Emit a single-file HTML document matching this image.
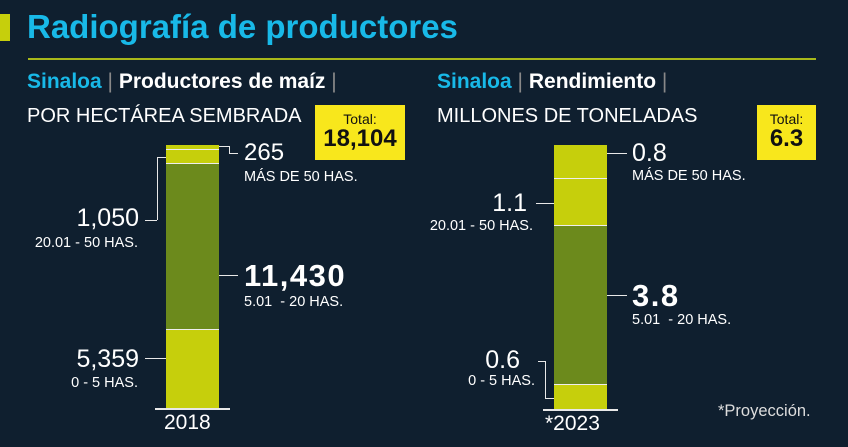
<!DOCTYPE html>
<html><head><meta charset="utf-8"><style>
body{margin:0;width:848px;height:447px;background:#0f1f2f;overflow:hidden;font-family:"Liberation Sans",sans-serif;color:#fff;position:relative}
.a{position:absolute;white-space:nowrap}
.l{position:absolute;background:#e8e8e8}
.s{font-size:14.5px}
.n{font-size:24px}
</style></head><body>
<div class="a" style="left:0;top:14px;width:10px;height:27px;background:#c6cf0c"></div>
<div class="a" style="left:27px;top:8px;font-size:33px;font-weight:bold;color:#18b9e8">Radiografía de productores</div>
<div class="a" style="left:28px;top:58px;width:788px;height:2px;background:#a8b81a"></div>

<div class="a" style="left:27px;top:70px;font-size:21px;font-weight:bold"><span style="color:#18b9e8">Sinaloa</span> <span style="font-weight:normal;color:#888">|</span> Productores de maíz <span style="font-weight:normal;color:#888">|</span></div>
<div class="a" style="left:27px;top:105px;font-size:20px">POR HECTÁREA SEMBRADA</div>
<div class="a" style="left:315px;top:105px;width:90px;height:55px;background:#f8e71c;color:#111;text-align:center"><div style="font-size:14px;margin-top:6px">Total:</div><div style="font-size:24px;font-weight:bold;line-height:24px">18,104</div></div>

<div class="a" style="left:437px;top:70px;font-size:21px;font-weight:bold"><span style="color:#18b9e8">Sinaloa</span> <span style="font-weight:normal;color:#888">|</span> Rendimiento <span style="font-weight:normal;color:#888">|</span></div>
<div class="a" style="left:437px;top:105px;font-size:20px">MILLONES DE TONELADAS</div>
<div class="a" style="left:757px;top:105px;width:59px;height:55px;background:#f8e71c;color:#111;text-align:center"><div style="font-size:14px;margin-top:6px">Total:</div><div style="font-size:24px;font-weight:bold;line-height:24px">6.3</div></div>

<!-- left bar -->
<div class="a" style="left:166px;top:145px;width:53px;height:4px;background:#c6cf0c;border-bottom:1px solid #eee"></div>
<div class="a" style="left:166px;top:150px;width:53px;height:13px;background:#c6cf0c;border-bottom:1px solid #eee"></div>
<div class="a" style="left:166px;top:164px;width:53px;height:165px;background:#6c8a1c;border-bottom:1px solid #eee"></div>
<div class="a" style="left:166px;top:330px;width:53px;height:78px;background:#c6cf0c"></div>
<div class="l" style="left:155px;top:408px;width:75px;height:2px"></div>
<div class="a" style="left:164px;top:411px;font-size:21px">2018</div>
<div class="l" style="left:219px;top:146px;width:10px;height:1px"></div><div class="l" style="left:229px;top:146px;width:1px;height:7px"></div><div class="l" style="left:229px;top:153px;width:9px;height:1px"></div>
<div class="a n" style="left:244px;top:139px">265</div>
<div class="a s" style="left:244px;top:169px">MÁS DE 50 HAS.</div>
<div class="l" style="left:157px;top:157px;width:9px;height:1px"></div><div class="l" style="left:157px;top:157px;width:1px;height:63px"></div><div class="l" style="left:145px;top:220px;width:12px;height:1px"></div>
<div class="a n" style="right:709px;top:204px;font-size:25px">1,050</div>
<div class="a s" style="right:710px;top:235px">20.01 - 50 HAS.</div>
<div class="l" style="left:219px;top:275px;width:19px;height:1px"></div>
<div class="a" style="left:244px;top:258px;font-size:31px;font-weight:bold;letter-spacing:1.5px">11,430</div>
<div class="a s" style="left:244px;top:294px">5.01 &nbsp;- 20 HAS.</div>
<div class="l" style="left:145px;top:358px;width:21px;height:1px"></div>
<div class="a n" style="right:709px;top:345px;font-size:25px">5,359</div>
<div class="a s" style="right:710px;top:375px">0 - 5 HAS.</div>

<!-- right bar -->
<div class="a" style="left:554px;top:145px;width:53px;height:33px;background:#c6cf0c;border-bottom:1px solid #eee"></div>
<div class="a" style="left:554px;top:179px;width:53px;height:46px;background:#c6cf0c;border-bottom:1px solid #eee"></div>
<div class="a" style="left:554px;top:226px;width:53px;height:158px;background:#6c8a1c;border-bottom:1px solid #eee"></div>
<div class="a" style="left:554px;top:385px;width:53px;height:25px;background:#c6cf0c"></div>
<div class="l" style="left:543px;top:409px;width:75px;height:2px"></div>
<div class="a" style="left:545px;top:412px;font-size:21px">*2023</div>
<div class="l" style="left:607px;top:153px;width:20px;height:1px"></div>
<div class="a n" style="left:632px;top:139px;font-size:25px">0.8</div>
<div class="a s" style="left:632px;top:168px">MÁS DE 50 HAS.</div>
<div class="l" style="left:536px;top:203px;width:18px;height:1px"></div>
<div class="a n" style="right:321px;top:189px;font-size:25px">1.1</div>
<div class="a s" style="right:315px;top:218px">20.01 - 50 HAS.</div>
<div class="l" style="left:607px;top:295px;width:20px;height:1px"></div>
<div class="a" style="left:632px;top:278px;font-size:31px;font-weight:bold;letter-spacing:1.5px">3.8</div>
<div class="a s" style="left:632px;top:312px">5.01 &nbsp;- 20 HAS.</div>
<div class="l" style="left:538px;top:361px;width:7px;height:1px"></div><div class="l" style="left:545px;top:361px;width:1px;height:37px"></div><div class="l" style="left:545px;top:398px;width:9px;height:1px"></div>
<div class="a n" style="right:328px;top:346px;font-size:25px">0.6</div>
<div class="a s" style="right:313px;top:373px">0 - 5 HAS.</div>
<div class="a" style="left:718px;top:402px;font-size:16.5px;color:#ddd">*Proyección.</div>
</body></html>
